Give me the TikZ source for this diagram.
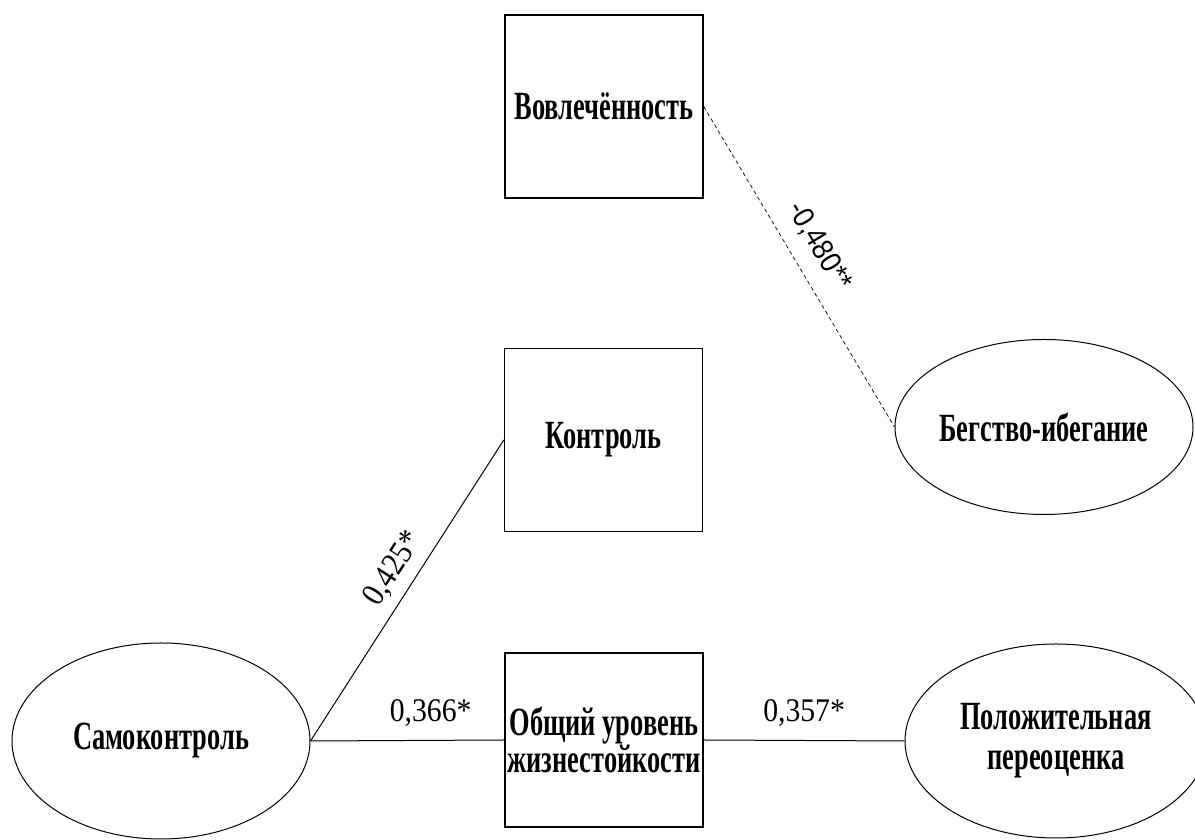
\documentclass[tikz,border=0pt]{standalone}
\usepackage{fontspec}
\setmainfont{Liberation Serif}
\newfontfamily\boxfont[FakeStretch=0.66]{Liberation Serif}
\newfontfamily\coeffont[FakeStretch=0.9]{Liberation Serif}
\newfontfamily\coefsans[FakeStretch=0.9]{Liberation Sans}
\usetikzlibrary{shapes.geometric}

\begin{document}
\begin{tikzpicture}[x=1pt,y=1pt,
    factor/.style={draw, line width=1.4pt, rectangle, inner sep=0pt,
      minimum width=198pt, minimum height=183pt, align=center,
      font=\boxfont\bfseries\fontsize{40}{36}\selectfont},
    latent/.style={draw, line width=1pt, ellipse, inner sep=0pt,
      font=\boxfont\bfseries\fontsize{40}{40}\selectfont},
    link/.style={line width=1pt},
    coef/.style={font=\coeffont\fontsize{33}{36}\selectfont}]
    \clip (0,0) rectangle (1195,840);

    \node[factor] (vovl) at (604,733.5) {Вовлечённость};
    \node[factor] (kontr) at (603.5,400) {Контроль};
    \node[factor, minimum height=174pt] (obsh) at (604,100) {Общий уровень\\жизнестойкости};
    \node[latent, minimum width=298pt, minimum height=196pt] (samo) at (161,99) {Самоконтроль};
    \node[latent, minimum width=302pt, minimum height=194pt, align=center] (poloz) at (1056,99) {Положительная\\переоценка};
    \node[latent, minimum width=298pt, minimum height=175pt] (begst) at (1044,413) {Бегство-ибегание};

    \draw[link] (samo.east) -- (kontr.west) node[coef, sloped, above=6pt, pos=0.53] {0,425*};
    \draw[link] (samo.east) -- (obsh.west) node[coef, above=10pt, pos=0.62] {0,366*};
    \draw[link] (obsh.east) -- (poloz.west) node[coef, above=10pt, midway] {0,357*};
    \draw[link, line width=0.7pt, dash pattern=on 4pt off 3pt] (vovl.east) -- (begst.west)
      node[coef, font=\coefsans\fontsize{30}{36}\selectfont, sloped, above=12pt, pos=0.48] {-0,480**};
\end{tikzpicture}
\end{document}
